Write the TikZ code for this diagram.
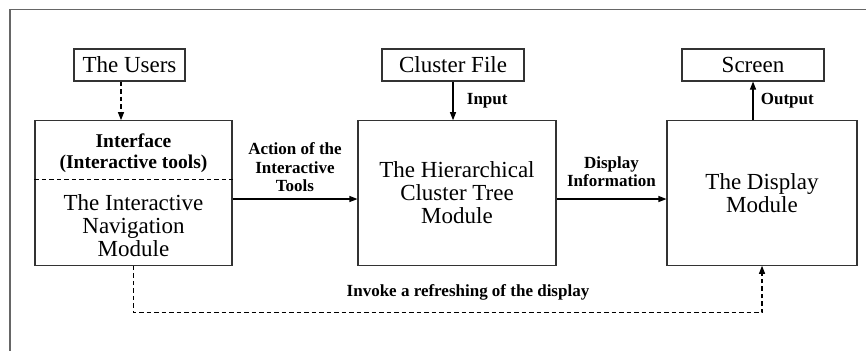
\documentclass[tikz,border=0pt]{standalone}
\usepackage{fontspec}
\setmainfont{Liberation Serif}
\usetikzlibrary{arrows.meta}

\begin{document}
\begin{tikzpicture}[x=1pt, y=-1pt, node distance={128pt}, line width=1.1pt,
    module/.style = {draw=black!80, minimum width=197pt, minimum height=144.5pt, inner sep=0pt, align=center, font=\fontsize{23}{23}\selectfont},
    source/.style = {draw=black!80, minimum height=32pt, inner sep=0pt, font=\fontsize{23}{23}\selectfont},
    tag/.style = {align=center, font=\fontsize{17}{18.5}\selectfont\bfseries},
    dashes/.style = {dash pattern=on 4.5pt off 3pt},
    >={Triangle[length=8pt,width=6pt]}]
    \useasboundingbox (0,0) rectangle (866,351);
    \draw[black!60, line width=1.6pt] (866,9.5) -- (10,9.5) -- (10,351);
    \node[module] (nav) at (133.5,193) {};
    \node[module, minimum width=198pt] (tree) at (457,193) {The Hierarchical\\Cluster Tree\\Module};
    \node[module, minimum width=190pt] (disp) at (762,193) {The Display\\Module};
    \node[source, minimum width=111pt] (users) [above of=nav, xshift=-4pt] {The Users};
    \node[source, minimum width=142pt] (cluster) [above of=tree, xshift=-4pt] {Cluster File};
    \node[source, minimum width=142pt] (screen) [above of=disp, xshift=-9pt] {Screen};
    \node[font=\fontsize{19.5}{21}\selectfont\bfseries, align=center] (iface) at ([yshift=-33pt]nav.north) {Interface\\(Interactive tools)};
    \node[font=\fontsize{23}{23}\selectfont, align=center] (navtext) at ([yshift=-33pt]nav.center) {The Interactive\\Navigation\\Module};
    \draw[dashes] ([yshift=-59.5pt]nav.north west) -- ([yshift=-59.5pt]nav.north east);
    \draw[->, dashes] ([xshift=-8.5pt]users.south) -- ([xshift=-8.5pt]users.south |- nav.north);
    \draw[->] (cluster) -- (cluster |- tree.north) node[midway, right=10pt, tag] {Input};
    \draw[->] (disp.north -| screen) -- (screen) node[midway, right=4pt, tag] {Output};
    \draw[->] ([yshift=-6pt]nav.east) -- ([yshift=-6pt]nav.east -| tree.west) node[midway, above=3pt, tag] {Action of the\\Interactive\\Tools};
    \draw[->] ([yshift=-6pt]tree.east) -- ([yshift=-6pt]tree.east -| disp.west) node[midway, above=8pt, tag] {Display\\Information};
    \draw[->, dashes] (nav.south) -- ++(0,47) -| (disp.south);
    \node[tag] (refresh) at (468,292) {Invoke a refreshing of the display};
\end{tikzpicture}
\end{document}
